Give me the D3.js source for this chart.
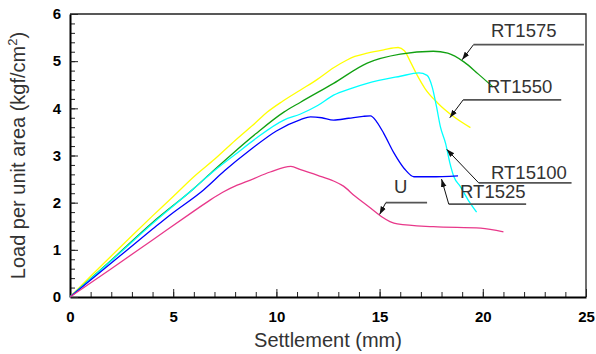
<!DOCTYPE html>
<html>
<head>
<meta charset="utf-8">
<script src="https://cdn.jsdelivr.net/npm/d3@7"></script>
<style>
  body { margin: 0; background: #fff; }
  svg { display: block; font-family: "Liberation Sans", Arial, sans-serif; }
</style>
</head>
<body>
<div id="wrapper"></div>
<script>
// curves: [settlement mm, load kgf/cm2]
const rt1550 = [[0,0],[1,0.44],[2,0.87],[3,1.3],[4,1.72],[5,2.13],[6,2.55],[7,2.92],[8,3.32],[9,3.7],[9.56,3.92],[10.3,4.15],[11.17,4.39],[12,4.62],[12.77,4.86],[13.4,5.02],[13.8,5.1],[14.4,5.17],[15.2,5.24],[15.9,5.29],[16.2,5.22],[16.5,4.98],[16.8,4.72],[17.2,4.42],[17.8,4.12],[18.6,3.82],[19.4,3.59]];
const rt1575 = [[0,0],[2,0.78],[4,1.58],[6,2.3],[7,2.7],[7.9,3.05],[9,3.46],[10.36,3.92],[11.17,4.13],[12.77,4.53],[14.4,4.96],[16,5.15],[17.6,5.21],[18.3,5.17],[19.1,4.98],[19.8,4.72],[20.5,4.45]];
const rt15100 = [[0,0],[2,0.77],[4,1.56],[6,2.3],[7,2.68],[8,3.02],[9,3.36],[10.36,3.75],[11.17,3.88],[12,4.06],[12.77,4.28],[13.6,4.42],[14.4,4.53],[16,4.68],[16.9,4.75],[17.3,4.7],[17.55,4.45],[17.75,4.05],[17.95,3.6],[18.2,3.25],[18.4,2.85],[18.6,2.55],[18.9,2.35],[19.3,2.05],[19.7,1.8]];
const rt1525 = [[0,0],[2,0.72],[4,1.44],[4.85,1.74],[6.47,2.27],[7.5,2.68],[8.74,3.12],[10,3.52],[11.17,3.76],[11.65,3.82],[12.2,3.8],[12.77,3.75],[13.5,3.79],[14.2,3.83],[14.56,3.84],[14.85,3.72],[15.2,3.47],[15.7,3.05],[16.2,2.72],[16.66,2.55],[17.5,2.55],[18.8,2.57]];
const uCurve = [[0,0],[2,0.6],[4,1.21],[6,1.82],[6.8,2.06],[7.4,2.22],[8.1,2.37],[8.74,2.48],[9.7,2.65],[10.7,2.77],[11.17,2.7],[12,2.58],[12.77,2.46],[13.25,2.35],[13.8,2.14],[14.4,1.94],[14.8,1.8],[15.1,1.7],[15.5,1.6],[15.86,1.55],[17.6,1.49],[19.9,1.46],[21.0,1.38]];

const seriesNames = ["RT1550", "RT1575", "RT15100", "RT1525", "U"];
const seriesColors = ["#ffff00", "#11a011", "#00ffff", "#0000ff", "#e8388a"];
const seriesData = [rt1550, rt1575, rt15100, rt1525, uCurve];

const xTicks = [0, 5, 10, 15, 20, 25];
const yTicks = [0, 1, 2, 3, 4, 5, 6];

// labels: text position, leader end, arrow tip (data units)
const labelText = ["RT1575", "RT1550", "RT15100", "RT1525", "U"];
const labelPos = [[20.4, 5.52], [20.2, 4.32], [20.4, 2.51], [18.9, 2.1], [15.7, 2.2]];
const leaderStart = [[19.55, 5.35], [19.05, 4.18], [19.8, 2.42], [18.35, 1.97], [15.3, 2.0]];
const leaderEnd = [[24.9, 5.35], [23.8, 4.18], [24.3, 2.42], [22.1, 1.97], [17.3, 2.0]];
const arrowTip = [[19.0, 5.03], [18.4, 3.8], [18.25, 3.13], [18.0, 2.5], [15.0, 1.75]];

const dimension = {
  width: 596, height: 354,
  margin: { left: 70, right: 10, top: 14, bottom: 57 }
};

const svg = d3.select("#wrapper").append("svg")
  .attr("width", dimension.width).attr("height", dimension.height);

const x = d3.scaleLinear().domain([0, 25])
  .range([dimension.margin.left, dimension.width - dimension.margin.right]);
const y = d3.scaleLinear().domain([0, 6])
  .range([dimension.height - dimension.margin.bottom, dimension.margin.top]);

// frame top/right
svg.append("path")
  .attr("d", `M${x(0)},${y(6)}H${x(25)}V${y(0)}`)
  .attr("fill", "none").attr("stroke", "#222").attr("stroke-width", 1.3);

// minor ticks (inward)
const xAxisMinor = d3.axisBottom(x).tickValues(d3.range(0, 26, 1)).tickSize(-5).tickFormat("");
const yAxisMinor = d3.axisLeft(y).tickValues(d3.range(0, 31).map(d => d / 5)).tickSize(-5).tickFormat("");
const xg0 = svg.append("g").attr("transform", `translate(0,${y(0)})`).call(xAxisMinor);
const yg0 = svg.append("g").attr("transform", `translate(${x(0)},0)`).call(yAxisMinor);
[xg0, yg0].forEach(g => { g.select(".domain").remove(); g.selectAll("line").attr("stroke", "#222"); });

// major axes
const xAxis = d3.axisBottom(x).tickValues(xTicks).tickFormat(d3.format("d")).tickSize(-8).tickPadding(14).tickSizeOuter(0);
const yAxis = d3.axisLeft(y).tickValues(yTicks).tickFormat(d3.format("d")).tickSize(-8).tickPadding(9).tickSizeOuter(0);
const xg = svg.append("g").attr("transform", `translate(0,${y(0)})`).call(xAxis);
const yg = svg.append("g").attr("transform", `translate(${x(0)},0)`).call(yAxis);
[xg, yg].forEach(g => {
  g.select(".domain").attr("stroke", "#000").attr("stroke-width", 2);
  g.selectAll("line").attr("stroke", "#222");
  g.selectAll("text").attr("fill", "#000").style("font-size", "15px").style("font-weight", "bold")
    .style("font-family", "'Liberation Sans', Arial, sans-serif");
});

// curves
const line = d3.line().x(d => x(d[0])).y(d => y(d[1])).curve(d3.curveMonotoneX);
svg.append("g").selectAll("path").data(seriesData).join("path")
  .attr("d", line).attr("fill", "none")
  .attr("stroke", (d, i) => seriesColors[i]).attr("stroke-width", 1.3);

// labels with leaders
svg.append("defs").append("marker")
  .attr("id", "arr").attr("viewBox", "0 0 10 10").attr("refX", 10).attr("refY", 5)
  .attr("markerWidth", 8).attr("markerHeight", 8).attr("orient", "auto")
  .append("path").attr("d", "M0,1.5L10,5L0,8.5Z").attr("fill", "#111");

const ann = svg.append("g");
labelText.forEach((t, i) => {
  ann.append("path")
    .attr("d", `M${x(leaderEnd[i][0])},${y(leaderEnd[i][1])}H${x(leaderStart[i][0])}`)
    .attr("stroke", "#555").attr("stroke-width", 1.6).attr("fill", "none");
  ann.append("line")
    .attr("x1", x(leaderStart[i][0])).attr("y1", y(leaderStart[i][1]))
    .attr("x2", x(arrowTip[i][0])).attr("y2", y(arrowTip[i][1]))
    .attr("stroke", "#111").attr("stroke-width", 1).attr("marker-end", "url(#arr)");
  ann.append("text")
    .attr("x", x(labelPos[i][0])).attr("y", y(labelPos[i][1]))
    .attr("fill", "#333").style("font-size", "18.5px").text(t);
});

// axis titles
svg.append("text")
  .attr("x", (x(0) + x(25)) / 2).attr("y", 347)
  .attr("text-anchor", "middle").attr("fill", "#333").style("font-size", "20px")
  .text("Settlement (mm)");

const yl = svg.append("text")
  .attr("transform", `translate(25,${(y(0) + y(6)) / 2}) rotate(-90)`)
  .attr("text-anchor", "middle").attr("fill", "#333").style("font-size", "20px");
yl.append("tspan").text("Load per unit area (kgf/cm");
yl.append("tspan").attr("dy", -8).style("font-size", "13px").text("2");
yl.append("tspan").attr("dy", 8).text(")");
</script>
</body>
</html>
